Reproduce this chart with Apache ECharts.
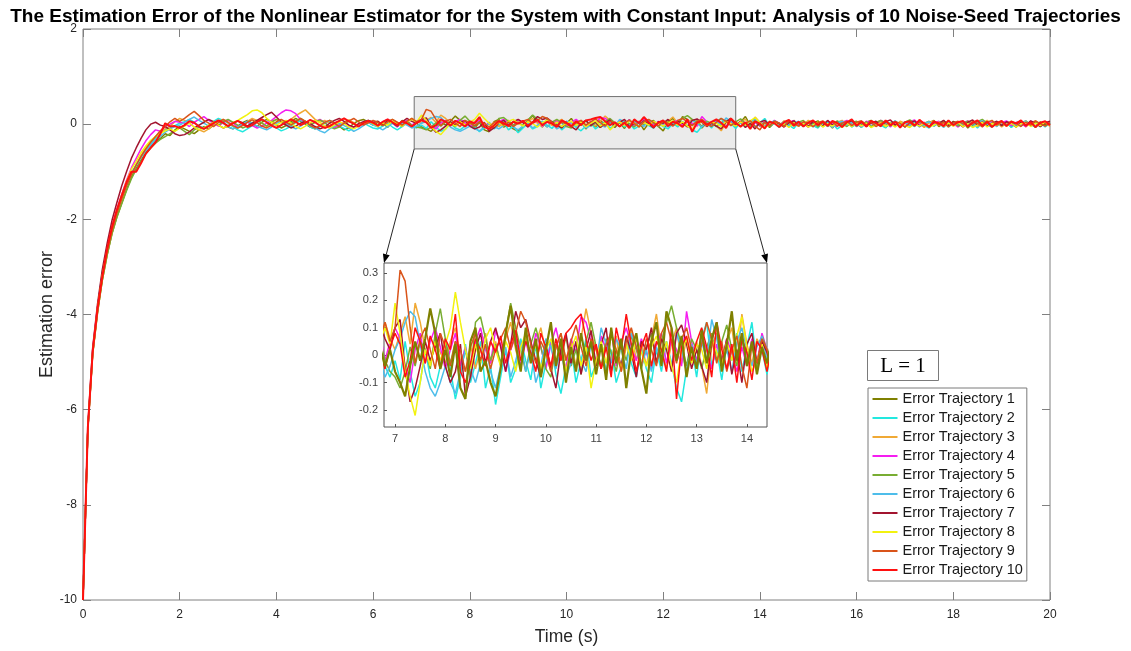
<!DOCTYPE html>
<html><head><meta charset="utf-8">
<script src="https://cdn.jsdelivr.net/npm/echarts@6/dist/echarts.min.js"></script>
<style>html,body{margin:0;padding:0;background:#fff}#c{width:1131px;height:651px}</style>
</head><body><div id="c"></div>
<script>
const titleText = 'The Estimation Error of the Nonlinear Estimator for the System with Constant Input: Analysis of 10 Noise-Seed Trajectories';
const xAxisName = 'Time (s)';
const yAxisName = 'Estimation error';
const boxLabel = 'L = 1';
const seriesNames = ['Error Trajectory 1','Error Trajectory 2','Error Trajectory 3','Error Trajectory 4','Error Trajectory 5','Error Trajectory 6','Error Trajectory 7','Error Trajectory 8','Error Trajectory 9','Error Trajectory 10'];
const seriesColors = ['#7f8000','#22e8df','#f0a935','#f51df0','#78ad32','#4dbdea','#a2142f','#f2f20f','#d9541a','#ff1010'];
// sampling grid of the trajectories (seconds)
const timeStart = 0, timeStep = 0.1;
// main axes
const xMain = {min: 0, max: 20, interval: 2};
const yMain = {min: -10, max: 2, interval: 2};
// zoom rectangle on the main plot and inset ranges
const zoomBox = {x0: 6.85, x1: 13.5, y0: -0.52, y1: 0.58};
const insetRange = {xMin: 6.78, xMax: 14.4, yMin: -0.262, yMax: 0.336};

const traj1 = [-10,-6.4,-4.82,-3.95,-3.28,-2.75,-2.3,-1.95,-1.66,-1.38,-1.12,-.93,-.76,-.6,-.48,-.38,-.3,-.2,-.24,-.12,-.05,
-.1,-.15,-.2,-.12,-.05,-.1,-.02,.06,.02,-.06,-.1,-.04,.03,.08,.02,-.05,.04,.1,.05,-.02,
-.08,-.03,.05,.12,.06,0,-.06,-.1,-.04,.02,.08,.03,-.04,-.12,-.08,.02,.07,.1,.04,-.02,
.04,-.03,.06,.02,-.05,.08,.03,-.04,.02,-.06,
-.1,-.15,-.04,.05,-.02,.06,.17,.08,-.05,.02,
-.08,.04,-.12,-.16,.05,.1,-.06,-.02,-.1,-.15,
-.05,.08,.18,.04,-.06,.1,-.03,.06,-.08,.02,
.12,-.04,.06,-.1,.03,-.06,.08,-.02,.05,-.07,
.04,-.09,.1,-.03,.06,-.12,.02,.08,-.05,-.14,
.05,.12,-.04,.16,.1,-.02,.07,-.08,.03,-.05,
.09,-.03,.06,.12,-.06,.04,.16,-.02,.08,-.04,
.05,-.07,.03,-.03,.06,-.04,.08,-.02,.04,-.06,
.02,.07,-.05,.03,-.08,.05,-.02,.06,-.04,.01,
-.06,.04,.08,-.03,.05,-.07,.02,.06,-.04,.03,
.07,-.02,.04,-.06,.03,.08,-.05,.02,-.03,.06,
-.04,.05,-.08,.02,.06,-.03,.07,-.05,.04,-.02,
.05,-.06,.03,.07,-.04,.02,-.07,.05,-.02,.03];

const traj2 = [-10,-6.4,-4.78,-3.9,-3.2,-2.68,-2.22,-1.88,-1.58,-1.28,-1.02,-.86,-.68,-.55,-.42,-.3,-.2,-.12,-.08,-.03,.02,
.05,.1,.04,-.04,-.08,-.02,.06,.12,.08,.02,-.05,-.12,-.16,-.1,-.03,.04,.1,.05,-.02,-.08,
-.14,-.1,-.04,.03,.08,.02,-.06,-.1,-.05,.02,.07,.03,-.04,-.09,-.14,-.08,-.02,.04,-.03,-.08,
-.1,-.04,.02,-.06,-.12,-.05,.03,-.04,-.08,-.02,
-.09,.05,-.06,-.15,-.1,.02,-.08,-.12,-.04,.06,
-.05,-.16,-.08,.04,-.1,-.03,.05,-.12,-.04,-.18,
-.08,.02,-.1,-.05,.06,-.02,-.09,.04,-.12,-.03,
.05,-.07,-.14,-.04,.03,-.1,-.02,.06,-.08,-.03,
.04,-.06,.02,-.1,-.04,.07,-.03,-.08,.03,-.05,
-.1,.02,-.06,.05,-.03,-.12,-.17,-.05,.03,-.08,
.06,.12,-.04,.02,-.09,.04,-.02,.08,-.06,.03,
.12,-.04,.02,-.07,.05,-.02,-.09,.03,-.05,.06,
-.03,-.08,.04,-.05,.02,-.1,-.03,.05,-.06,.01,
-.07,.03,-.04,.06,-.02,-.08,.04,-.03,.05,-.06,
.02,-.05,.07,-.03,-.08,.03,-.02,.05,-.06,.04,
-.03,.06,-.05,.02,-.08,.04,-.02,-.06,.05,-.03,
.04,-.07,.02,-.04,.06,-.02,-.05,.03,-.06,.02];

const traj3 = [-10,-6.42,-4.85,-3.98,-3.25,-2.72,-2.28,-1.9,-1.6,-1.3,-1.05,-.85,-.66,-.5,-.36,-.26,-.18,-.1,-.04,.05,.12,
.08,.02,-.06,-.12,-.16,-.1,-.02,.05,.1,.04,-.03,-.08,-.02,.06,.12,.08,.02,-.04,.03,.1,
.06,.02,.1,.18,.24,.3,.2,.1,.04,.08,.02,-.05,-.02,.04,.09,.03,-.04,.02,.06,.01,
.06,-.02,.04,.1,.03,-.04,.05,.12,.06,.02,
.08,.14,.04,.19,.12,.02,-.04,.06,.01,-.03,
.05,.1,-.02,-.06,.04,-.05,.02,.08,-.03,.05,
-.04,.06,.12,.02,-.05,.07,-.02,.04,.1,.01,
-.06,.03,.08,-.02,.05,-.04,.06,.17,.08,.02,
-.05,.04,-.02,.07,-.06,.03,.09,-.02,.05,-.04,
.06,.15,.02,-.05,.04,.1,-.03,.06,-.02,.05,
-.04,-.14,.03,.08,-.02,.05,.1,-.03,.15,.04,
-.03,.06,.02,-.05,.07,.03,-.04,.05,-.02,.08,
.03,-.04,.06,.01,-.06,.04,.08,-.03,.02,-.05,
.05,.02,-.06,.04,.07,-.02,.03,-.05,.06,.02,
-.04,.05,.01,-.07,.04,.06,-.03,.02,.07,-.04,
.03,-.02,.06,.04,-.05,.02,.08,-.03,.04,-.06,
.02,.06,-.03,.05,-.06,.03,.07,-.02,.04,-.05];

const traj4 = [-10,-6.38,-4.75,-3.85,-3.15,-2.6,-2.15,-1.8,-1.48,-1.18,-.92,-.72,-.52,-.35,-.22,-.12,-.15,-.05,0,.06,.04,
.02,-.05,.04,.1,.16,.08,.02,-.04,.03,.09,.02,-.06,-.02,.05,-.03,-.08,-.04,.02,.08,.16,
.24,.3,.28,.22,.1,.04,-.02,.05,.1,.03,-.04,-.08,-.02,.04,-.03,-.07,-.02,.04,.08,.03,
-.04,.05,.1,.02,-.06,.03,.08,-.02,.05,.1,
.06,-.04,-.1,.02,.08,-.03,.05,.1,.03,-.05,
.02,.08,-.04,.03,-.08,.05,.1,.02,-.03,.09,
.04,-.06,.02,.07,-.04,.05,-.02,.08,.03,-.05,
.04,.1,.02,-.05,.06,.01,.14,.12,.05,-.03,
.07,.02,.09,-.04,.05,.1,.03,-.02,.06,.01,
-.05,.04,.08,-.03,.06,.02,-.04,.16,.05,-.02,
.07,.02,-.05,.04,-.03,.06,.01,-.06,.03,-.04,
.06,-.03,.08,.02,-.05,.04,.07,-.02,.03,-.06,
.05,.01,-.04,.07,.02,-.05,.04,.08,-.03,.02,
-.05,.06,.02,-.03,.08,.03,-.06,.04,.01,-.04,
.05,.09,-.02,.04,-.05,.02,.06,-.03,.05,.01,
-.06,.03,.07,-.02,.04,-.05,.02,.06,-.04,.03,
.07,-.03,.04,.01,-.05,.06,.02,-.04,.05,-.02];

const traj5 = [-10,-6.42,-4.84,-3.96,-3.27,-2.74,-2.3,-1.96,-1.68,-1.4,-1.15,-.95,-.78,-.62,-.5,-.4,-.32,-.26,-.2,-.14,-.08,
-.15,-.22,-.12,-.06,-.1,-.03,.04,-.02,.05,.1,.04,-.02,-.08,-.04,.03,.08,.02,-.04,.05,.1,
.04,-.03,.02,.07,.12,.06,-.02,.04,.09,.03,-.05,-.1,-.06,.02,.06,.01,-.04,.03,.08,.02,
-.04,.02,-.07,.05,.01,-.05,.06,-.02,-.06,-.08,
-.12,-.06,.03,-.04,.05,.02,-.05,.08,.17,.06,
-.03,.05,-.06,.02,-.08,.12,.14,.06,-.02,.04,
-.03,.08,.19,.1,.02,-.06,.04,.1,.03,-.05,
-.08,.04,-.02,.07,-.04,.02,-.07,.05,.12,.03,
-.04,.06,.01,-.06,.04,-.02,.07,.02,-.05,.03,
.08,-.03,.05,.12,.18,.1,.04,-.04,.06,.02,
-.05,.03,.08,-.02,.05,.11,.02,-.04,.06,-.03,
.04,-.05,.07,.02,-.03,.06,-.02,.04,.08,-.04,
.03,-.06,.02,.05,-.03,.07,.01,-.05,.04,.06,
-.02,.05,-.06,.03,.08,.02,-.04,.06,-.03,.04,
.09,.03,-.05,.02,.06,-.04,.03,.07,-.02,.05,
-.04,.02,.06,-.03,.05,.1,.02,-.05,.03,.06,
-.03,.04,-.06,.02,.07,-.02,.05,-.04,.03,-.01];

const traj6 = [-10,-6.4,-4.8,-3.86,-3.1,-2.62,-2.18,-1.84,-1.55,-1.28,-1.04,-.86,-.7,-.56,-.44,-.33,-.25,-.17,-.1,-.05,-.02,
.04,.1,.15,.08,.02,-.04,.03,.08,.02,-.05,-.1,-.06,.01,.06,.02,-.04,-.08,-.12,-.06,.02,
.06,.01,-.05,-.1,-.04,.03,-.02,-.08,-.14,-.18,-.1,-.04,.02,-.03,-.08,-.15,-.1,-.03,.04,-.02,
-.06,-.12,-.05,.02,-.04,.03,-.02,-.08,-.04,.02,
.06,.12,.16,.14,.04,-.06,-.12,-.15,-.1,-.04,
-.1,-.14,-.06,.02,-.05,-.1,-.03,.04,-.06,-.12,
-.04,.03,-.08,-.02,.05,-.06,.02,-.1,-.04,.06,
.03,-.05,.02,-.08,-.03,.05,-.02,-.06,.04,-.04,
.1,.04,-.03,.06,.02,-.05,.08,.03,-.04,.02,
-.06,.03,-.02,.05,-.04,.08,.02,-.06,.04,-.03,
.05,-.02,.13,.06,-.04,.02,-.06,.05,.1,.02,
-.04,.03,.07,-.02,.05,-.05,.02,.06,-.03,.04,
-.06,.02,-.03,.05,-.07,.03,.06,-.02,.04,-.05,
.03,-.04,.06,.01,-.05,.04,-.03,.07,-.02,.05,
-.03,.04,-.06,.02,.05,-.04,.03,-.07,.04,.02,
.05,-.03,.02,-.06,.04,.07,-.02,.03,-.05,.04,
-.02,.05,-.04,.03,.06,-.03,.02,-.05,.04,.01];

const traj7 = [-10,-6.35,-4.7,-3.78,-3.05,-2.5,-2.02,-1.65,-1.3,-1,-.72,-.5,-.3,-.12,0,.04,-.02,-.05,-.12,-.2,-.24,
-.22,-.16,-.08,-.02,.04,.1,.05,-.02,-.08,-.04,.02,.07,.03,-.04,.02,.08,.14,.2,.25,.15,
.05,-.02,-.08,-.04,.02,.06,.01,-.05,-.1,-.06,.02,.08,.12,.06,-.02,-.06,.01,.05,.08,.04,
.06,-.02,.08,.03,-.04,.05,.12,.06,.02,.1,
.13,-.05,-.17,-.12,-.04,.05,-.02,.03,.08,-.04,
-.1,-.06,.04,-.15,-.08,.02,.08,-.03,.05,.1,
.03,-.06,.04,.16,.1,.13,.05,-.02,-.08,.04,
-.05,-.12,.02,.08,-.03,.05,-.07,.02,.09,-.04,
.04,.1,-.06,.02,-.04,.07,.01,-.08,.05,.02,
.1,-.03,.06,.02,-.06,.08,.11,.04,-.05,.02,
-.04,-.1,.05,.12,-.03,.06,-.07,.02,-.1,.04,
.08,-.03,.05,.01,-.06,.03,.07,-.04,.02,-.05,
.06,.02,-.04,.08,-.02,.04,-.06,.03,.07,-.03,
.04,-.05,.02,.06,-.03,.05,.09,-.02,.03,-.06,
.02,.07,-.04,.03,-.06,.04,.01,.08,-.03,.05,
.02,-.06,.04,.09,-.02,.05,-.04,.02,.06,-.03,
.05,.02,-.06,.04,-.03,.07,.02,-.05,.03,.06];

const traj8 = [-10,-6.4,-4.8,-3.88,-3.18,-2.64,-2.18,-1.82,-1.5,-1.2,-.95,-.78,-.6,-.46,-.34,-.26,-.2,-.14,-.1,-.15,-.08,
-.04,.02,-.06,-.12,-.08,-.02,.04,-.02,-.08,-.04,.03,.08,.14,.2,.28,.3,.24,.12,.04,-.02,
.04,.08,.02,-.05,-.1,-.04,.03,.08,.03,-.04,-.08,-.02,.05,.01,-.06,-.1,-.04,.02,.06,.01,
-.05,.03,-.02,.06,.01,-.04,.05,.1,.04,.19,
.08,-.06,-.15,-.22,-.1,.02,-.04,.05,-.02,.04,
.1,.23,.12,.02,-.05,.04,-.03,.06,.1,.02,
-.04,.05,.01,-.06,.03,.08,-.02,.04,-.05,.02,
.06,-.03,.05,-.06,.02,.07,-.04,.03,-.12,-.02,
.05,-.03,.07,.02,-.05,.04,-.02,.06,.01,-.04,
.03,.07,-.02,.05,-.04,-.1,.02,.06,-.03,.04,
.02,-.05,.06,.01,-.04,.05,-.02,.07,.14,.03,
-.06,-.02,.04,-.05,.01,-.07,.03,-.04,.02,-.06,
-.02,.04,-.06,.01,-.04,.03,-.07,.02,-.05,.03,
-.04,.02,-.07,-.02,.03,-.05,.01,-.06,.04,-.03,
-.07,.01,-.04,.03,-.06,-.02,.04,-.05,.02,-.04,
.03,-.05,.01,-.07,-.02,.04,-.06,.02,-.03,.05,
-.04,.02,-.06,.01,.04,-.05,.02,-.03,.05,-.02];

const traj9 = [-10,-6.42,-4.82,-3.92,-3.22,-2.68,-2.24,-1.88,-1.58,-1.3,-1.06,-.86,-.68,-.52,-.38,-.26,-.14,-.05,.05,.12,.06,
.12,.2,.27,.18,.08,.02,-.05,.03,.1,.04,-.03,-.08,-.03,.04,.09,.03,-.04,-.08,-.02,.05,
.1,.04,-.02,.05,.12,.06,-.03,-.08,-.03,.04,.08,.02,-.05,.02,.07,.12,.05,-.02,.03,.08,
.04,-.03,.05,.1,.04,-.02,.06,.12,.05,.1,
.31,.27,.1,-.03,.06,.1,.02,-.05,.08,.03,
-.04,.05,.02,-.06,.03,.08,-.02,.04,-.05,.02,
.06,.1,.02,.08,.16,.12,.04,-.03,.05,.01,
-.06,.03,.08,-.02,.05,.11,.03,-.04,.06,.02,
-.05,.04,.08,.02,-.06,.05,.1,.03,-.04,.06,
.02,-.04,.08,.12,.05,-.03,.06,.1,.02,-.05,
.04,.12,.06,-.03,.05,-.06,.02,.07,-.04,-.12,
.04,-.03,.06,.02,-.05,.07,.01,-.04,.05,.02,
-.05,.03,.07,-.02,.05,-.04,.02,.06,-.03,.04,
.07,-.02,.04,-.05,.01,.06,-.03,.05,.02,-.06,
.03,-.04,.06,.02,-.05,.07,-.02,.04,-.06,.03,
.06,.01,-.04,.05,.02,-.06,.04,.08,-.02,.05,
-.03,.06,.02,-.05,.04,-.02,.07,.01,-.04,.03];

const traj10 = [-10,-6.38,-4.78,-3.88,-3.2,-2.62,-2.16,-1.8,-1.5,-1.22,-1,-1,-.82,-.62,-.5,-.38,-.2,.02,-.05,-.04,-.08,
-.02,.06,.03,-.05,-.1,-.04,.02,.08,.03,-.04,.02,.07,.01,-.06,-.02,.05,.1,.04,-.03,-.08,
-.02,.04,.1,.05,-.02,.03,.09,.04,-.03,-.08,-.04,.02,.07,.12,.06,.01,-.05,.02,.07,.03,
-.03,.05,.1,.04,-.02,.06,.02,-.05,.03,.08,
.04,-.08,-.02,.1,.05,-.03,.07,.02,-.05,.06,
.02,.15,-.06,-.1,-.03,.06,.02,-.04,.05,.01,
.07,-.03,.04,.09,-.02,.05,.01,-.06,.08,.03,
-.04,.06,-.02,.08,.1,.13,.15,.06,-.02,.04,
-.05,.03,-.08,.1,.02,.15,.04,-.06,.03,.08,
-.04,.05,.02,-.06,.1,-.16,.03,.07,-.02,.05,
.1,.03,-.08,.12,.02,-.05,.04,-.1,.06,.01,
-.09,.05,.02,-.06,.04,.09,-.03,.05,-.05,.03,
.08,-.02,.05,-.04,.07,.02,-.06,.04,.1,-.03,
.05,-.05,.07,.02,-.04,.08,-.02,.05,-.07,.04,
.06,-.03,.09,.01,-.06,.05,.02,-.04,.08,-.02,
.04,.07,-.05,.03,.08,-.03,.05,-.06,.02,.07,
-.04,.05,.01,.08,-.03,.04,-.06,.03,.06,-.02];

const trajectories = [traj1,traj2,traj3,traj4,traj5,traj6,traj7,traj8,traj9,traj10];

const FONT = '"Liberation Sans", Arial, Helvetica, sans-serif';
const chart = echarts.init(document.getElementById('c'), null, {renderer: 'canvas'});

function toPairs(vals) {
  return vals.map((v, i) => [+(timeStart + i * timeStep).toFixed(2), v]);
}

const series = [];
trajectories.forEach((vals, k) => {
  const s = {
    name: seriesNames[k], type: 'line', xAxisIndex: 0, yAxisIndex: 0,
    data: toPairs(vals), showSymbol: false, symbol: 'none',
    lineStyle: {width: k === 9 ? 2 : 1.5, color: seriesColors[k]},
    itemStyle: {color: seriesColors[k]},
    z: 3
  };
  if (k === 0) {
    s.markArea = {
      silent: true,
      itemStyle: {color: '#ebebeb', borderColor: '#707070', borderWidth: 1, opacity: 1},
      data: [[{coord: [zoomBox.x0, zoomBox.y1]}, {coord: [zoomBox.x1, zoomBox.y0]}]]
    };
  }
  series.push(s);
});
trajectories.forEach((vals, k) => {
  series.push({
    name: seriesNames[k], type: 'line', xAxisIndex: 2, yAxisIndex: 2,
    data: toPairs(vals).filter(p => p[0] >= insetRange.xMin - 0.2 && p[0] <= insetRange.xMax + 0.2),
    showSymbol: false, symbol: 'none', clip: true,
    lineStyle: {width: k === 0 ? 2.2 : 1.5, color: seriesColors[k]},
    itemStyle: {color: seriesColors[k]},
    z: k === 0 ? 12 : 10
  });
});

const insetXFmt = v => Math.abs(v - Math.round(v)) < 1e-6 ? String(Math.round(v)) : '';
const insetYFmt = v => { const r = Math.round(v * 10) / 10; return Math.abs(v - r) < 1e-6 ? String(r === 0 ? 0 : r) : ''; };

const tickStyle = {inside: true, length: 8, lineStyle: {color: '#808080'}};
chart.setOption({
  animation: false,
  backgroundColor: '#ffffff',
  title: {
    text: titleText, left: 'center', top: 2,
    textStyle: {fontFamily: FONT, fontSize: 19, fontWeight: 'bold', color: '#000'}
  },
  legend: {
    data: seriesNames, orient: 'vertical', left: 868, top: 388,
    padding: [3, 4, 3, 4.5], itemGap: 3, itemWidth: 25, itemHeight: 2, icon: 'rect',
    backgroundColor: '#fff', borderColor: '#7a7a7a', borderWidth: 1, borderRadius: 0,
    textStyle: {fontFamily: FONT, fontSize: 14.5, color: '#1a1a1a', lineHeight: 16},
    selectedMode: false
  },
  grid: [
    {left: 83, top: 29, width: 967, height: 572, show: true, borderColor: '#808080', borderWidth: 1, backgroundColor: 'transparent', containLabel: false},
    {left: 384, top: 263, width: 383, height: 164, show: true, borderColor: '#555555', borderWidth: 1, backgroundColor: '#fff', containLabel: false, z: 8}
  ],
  xAxis: [
    {gridIndex: 0, type: 'value', min: xMain.min, max: xMain.max, interval: xMain.interval, position: 'bottom',
     axisLine: {show: false, onZero: false}, axisTick: tickStyle,
     axisLabel: {color: '#262626', fontSize: 12, margin: 9, fontFamily: FONT}, splitLine: {show: false},
     name: xAxisName, nameLocation: 'middle', nameGap: 28, nameMoveOverlap: false, nameTextStyle: {fontFamily: FONT, fontSize: 17.5, color: '#262626'}},
    {gridIndex: 0, type: 'value', min: xMain.min, max: xMain.max, interval: xMain.interval, position: 'top',
     axisLine: {show: false, onZero: false}, axisTick: tickStyle,
     axisLabel: {show: false}, splitLine: {show: false}},
    {gridIndex: 1, type: 'value', min: insetRange.xMin, max: insetRange.xMax, splitNumber: 8, position: 'bottom',
     axisLine: {show: false, onZero: false}, axisTick: {inside: true, length: 3, lineStyle: {color: '#555'}},
     axisLabel: {color: '#404040', fontSize: 11, margin: 6, fontFamily: FONT, showMinLabel: false, showMaxLabel: false, formatter: insetXFmt},
     splitLine: {show: false}, z: 9}
  ],
  yAxis: [
    {gridIndex: 0, type: 'value', min: yMain.min, max: yMain.max, interval: yMain.interval, position: 'left',
     axisLine: {show: false, onZero: false}, axisTick: tickStyle,
     axisLabel: {color: '#262626', fontSize: 12, margin: 6, fontFamily: FONT}, splitLine: {show: false},
     name: yAxisName, nameLocation: 'middle', nameGap: 27, nameMoveOverlap: false, nameTextStyle: {fontFamily: FONT, fontSize: 18, color: '#262626'}},
    {gridIndex: 0, type: 'value', min: yMain.min, max: yMain.max, interval: yMain.interval, position: 'right',
     axisLine: {show: false, onZero: false}, axisTick: tickStyle,
     axisLabel: {show: false}, splitLine: {show: false}},
    {gridIndex: 1, type: 'value', min: insetRange.yMin, max: insetRange.yMax, splitNumber: 6, position: 'left',
     axisLine: {show: false, onZero: false}, axisTick: {inside: true, length: 3, lineStyle: {color: '#555'}},
     axisLabel: {color: '#404040', fontSize: 11, margin: 6, fontFamily: FONT, showMinLabel: false, showMaxLabel: false, formatter: insetYFmt},
     splitLine: {show: false}, z: 9}
  ],
  series: series
});

function arrow(p, q) {
  const dx = q[0] - p[0], dy = q[1] - p[1], L = Math.hypot(dx, dy), ux = dx / L, uy = dy / L;
  const hl = 9, hw = 3.5;
  const bx = q[0] - ux * hl, by = q[1] - uy * hl;
  return [
    {type: 'line', z: 20, shape: {x1: p[0], y1: p[1], x2: bx, y2: by}, style: {stroke: '#262626', lineWidth: 1}},
    {type: 'polygon', z: 20, shape: {points: [[q[0], q[1]], [bx - uy * hw, by + ux * hw], [bx + uy * hw, by - ux * hw]]}, style: {fill: '#000'}}
  ];
}

const pBL = chart.convertToPixel({xAxisIndex: 0, yAxisIndex: 0}, [zoomBox.x0, zoomBox.y0]);
const pBR = chart.convertToPixel({xAxisIndex: 0, yAxisIndex: 0}, [zoomBox.x1, zoomBox.y0]);
const qTL = chart.convertToPixel({xAxisIndex: 2, yAxisIndex: 2}, [insetRange.xMin, insetRange.yMax]);
const qTR = chart.convertToPixel({xAxisIndex: 2, yAxisIndex: 2}, [insetRange.xMax, insetRange.yMax]);

chart.setOption({
  graphic: [
    ...arrow(pBL, qTL), ...arrow(pBR, qTR),
    {type: 'rect', z: 20, shape: {x: 867.5, y: 350.5, width: 71, height: 30}, style: {fill: '#fff', stroke: '#7a7a7a', lineWidth: 1}},
    {type: 'text', z: 21, x: 903, y: 366, style: {text: boxLabel, fontFamily: '"Liberation Serif", "DejaVu Serif", serif', fontSize: 21, fill: '#000', align: 'center', verticalAlign: 'middle'}}
  ]
});
</script>
</body></html>
